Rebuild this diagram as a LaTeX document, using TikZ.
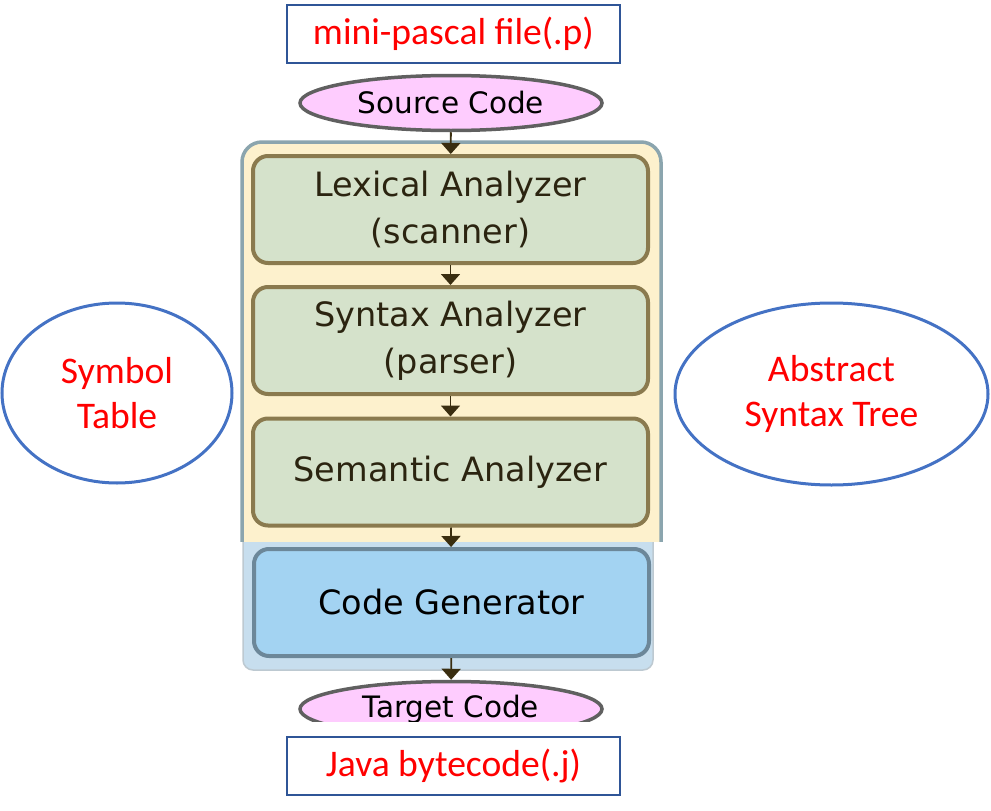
\documentclass[tikz,border=0pt]{standalone}
\usepackage{fontspec}
\usepackage{tikz}
\usetikzlibrary{shapes.geometric,arrows.meta}
\newfontfamily\calfont{Carlito}
\newfontfamily\flowfont{DejaVu Sans}
\definecolor{FrameLine}{HTML}{8BA5AE}
\definecolor{FrameFill}{HTML}{FDF1CD}
\definecolor{StageFill}{HTML}{D5E2CB}
\definecolor{StageLine}{HTML}{8A7A4E}
\definecolor{StageText}{HTML}{2B2410}
\definecolor{GenFill}{HTML}{A3D3F2}
\definecolor{GenLine}{HTML}{6C8799}
\definecolor{GenBack}{HTML}{C7DEEE}
\definecolor{TermFill}{HTML}{FECCFE}
\definecolor{NoteBlue}{HTML}{4472C4}
\definecolor{FileLine}{HTML}{2F5597}
\definecolor{TipDark}{HTML}{3A2E10}
\tikzset{
  stage/.style={draw=StageLine, line width=4pt, fill=StageFill, rounded corners=15pt,
    minimum width=395pt, minimum height=107pt, align=center, text=StageText,
    font=\flowfont\fontsize{33.5}{47}\selectfont},
  genstage/.style={stage, draw=GenLine, fill=GenFill, text=black},
  term/.style={ellipse, draw=gray!75!black, line width=3.5pt, fill=TermFill, inner sep=0pt,
    minimum width=302pt, minimum height=55pt, font=\flowfont\fontsize{29.5}{33}\selectfont},
  filebox/.style={draw=FileLine, line width=1.5pt, minimum width=333pt, minimum height=58pt,
    text=red, font=\calfont\fontsize{37.6}{42}\selectfont},
  note/.style={ellipse, draw=NoteBlue, line width=3pt, inner sep=0pt, align=center,
    text=red, font=\calfont\fontsize{37.6}{45}\selectfont},
  flow/.style={draw=TipDark, line width=1.8pt, -{Triangle[width=19pt,length=11pt]}}
}
\begin{document}
\begin{tikzpicture}[x=1pt,y=-1pt]
\useasboundingbox (0,0) rectangle (991,811);
% frame round the phases
\fill[GenBack, draw=GenLine!45, line width=1.5pt, rounded corners=10pt] (243,520) rectangle (653,670);
\begin{scope}
  \clip (0,0) rectangle (991,541);
  \draw[FrameLine, fill=FrameFill, line width=3.5pt, rounded corners=20pt] (242,142) rectangle (661,600);
\end{scope}
% input and output
\node[filebox] (infile) at (453.5,34) {mini-pascal file(.p)};
\node[term] (src) at (451,103) {Source Code};
\foreach \n/\y/\t in {lex/209.5/{Lexical Analyzer\\(scanner)},
                      syn/340.5/{Syntax Analyzer\\(parser)},
                      sem/472/{Semantic Analyzer}}
  \node[stage] (\n) at (450.5,\y) {\t};
\node[genstage] (gen) at (451.5,602.5) {Code Generator};
\begin{scope}
  \clip (0,0) rectangle (991,721);
  \node[term] (tgt) at (451,709) {Target Code};
\end{scope}
\node[filebox] (outfile) at (453.5,766) {Java bytecode(.j)};
% side notes
\node[note, minimum width=230pt, minimum height=180pt] (symtab) at (117,393) {Symbol\\Table};
\node[note, minimum width=313pt, minimum height=182pt] (ast) at (831.5,394) {Abstract\\Syntax Tree};
% connectors
\draw[flow] (src) -- (lex);
\draw[flow] (lex) -- (syn);
\draw[flow] (syn) -- (sem);
\draw[flow] (sem) -- (gen);
\draw[flow] (gen) -- (tgt);
\end{tikzpicture}
\end{document}
